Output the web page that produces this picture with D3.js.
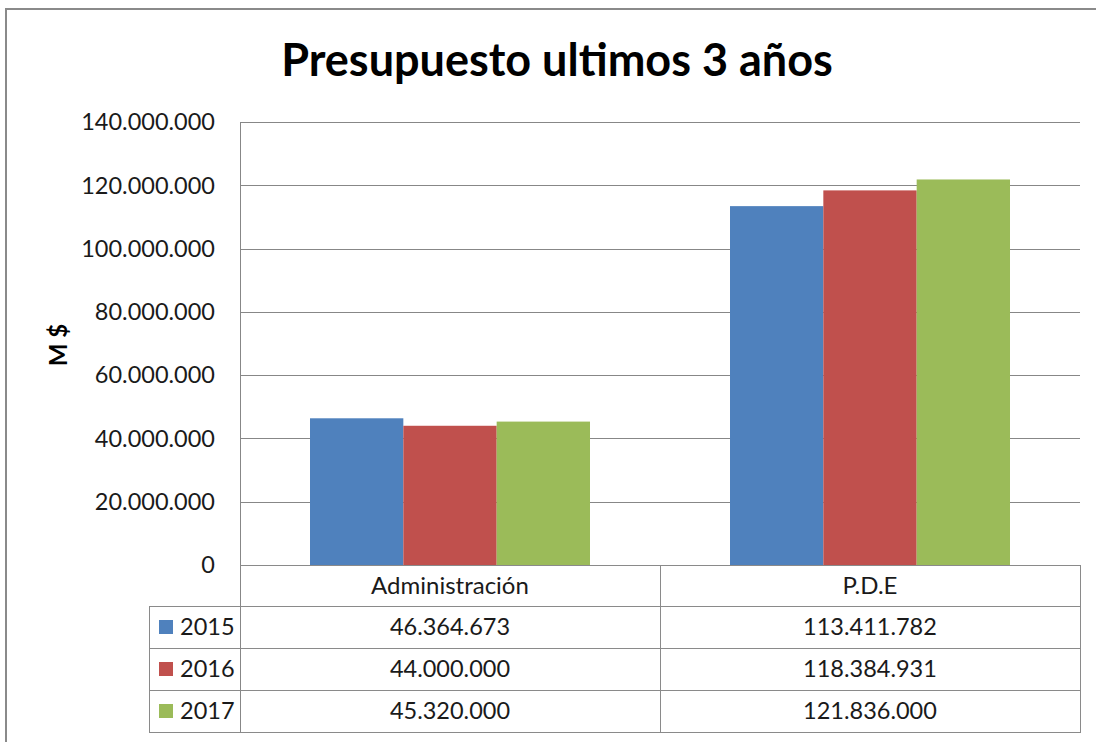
<!DOCTYPE html>
<html>
<head>
<meta charset="utf-8">
<script src="https://cdn.jsdelivr.net/npm/d3@7"></script>
<style>
  html, body { margin: 0; padding: 0; background: #fff; overflow: hidden; }
  svg { display: block; }
  text { font-family: Lato, "Open Sans", sans-serif; }
</style>
</head>
<body>
<script>
const title = "Presupuesto ultimos 3 años";
const yAxisLabel = "M $";
const categories = ["Administración", "P.D.E"];
const years = ["2015", "2016", "2017"];
const values2015 = [46364673, 113411782];
const values2016 = [44000000, 118384931];
const values2017 = [45320000, 121836000];
const yTicks = [0, 20000000, 40000000, 60000000, 80000000, 100000000, 120000000, 140000000];
const colors = ["#4F81BD", "#C0504D", "#9BBB59"];

const series = [values2015, values2016, values2017];

const W = 1096, H = 742;
const svg = d3.select("body").append("svg").attr("width", W).attr("height", H);

const loc = d3.formatLocale({ decimal: ",", thousands: ".", grouping: [3], currency: ["$", ""] });
const fmt = loc.format(",d");

// frame
svg.append("rect").attr("x", 6).attr("y", 9).attr("width", W + 20).attr("height", H + 20)
  .attr("fill", "#fff").attr("stroke", "#8a8a8a").attr("stroke-width", 2);

const plotL = 240, plotR = 1080, plotT = 122, plotB = 565;
const x0 = d3.scaleBand().domain(categories).range([plotL, plotR]).paddingInner(0).paddingOuter(0);
const x1 = d3.scaleBand().domain(years).range([0, x0.bandwidth()]).paddingInner(0).paddingOuter(0.75);
const y = d3.scaleLinear().domain([0, 140000000]).range([plotB, plotT]);

// gridlines
svg.append("g").selectAll("line").data(yTicks.filter(d => d > 0)).join("line")
  .attr("x1", plotL).attr("x2", plotR)
  .attr("y1", d => Math.round(y(d)) + 0.5).attr("y2", d => Math.round(y(d)) + 0.5)
  .attr("stroke", "#878787").attr("stroke-width", 1);

// tick labels
svg.append("g").selectAll("text").data(yTicks).join("text")
  .attr("x", 215).attr("y", d => y(d)).attr("dy", "0.35em")
  .attr("text-anchor", "end").attr("font-size", 23.5).attr("fill", "#1a1a1a")
  .text(d => fmt(d));

// bars
const groups = svg.append("g").selectAll("g").data(categories).join("g")
  .attr("transform", c => `translate(${x0(c)},0)`);
groups.selectAll("rect").data((c, ci) => years.map((yr, si) => ({ yr, si, v: series[si][ci] }))).join("rect")
  .attr("x", d => x1(d.yr)).attr("width", x1.bandwidth())
  .attr("y", d => y(d.v)).attr("height", d => y(0) - y(d.v))
  .attr("fill", d => colors[d.si]);

// axis line
svg.append("line").attr("x1", plotL + 0.5).attr("x2", plotL + 0.5).attr("y1", plotT).attr("y2", 732)
  .attr("stroke", "#878787");

// table
const tableL = 149, headT = plotB, headB = 606, tableB = 732;
const rowY = d3.scaleBand().domain(years).range([headB, tableB]);
const lineColor = "#8a8a8a";
const tg = svg.append("g");
tg.append("line").attr("x1", plotL).attr("x2", plotR).attr("y1", headT + 0.5).attr("y2", headT + 0.5).attr("stroke", lineColor);
tg.selectAll("line.h").data([headB, ...years.map(yr => rowY(yr) + rowY.bandwidth())]).join("line")
  .attr("class", "h")
  .attr("x1", tableL).attr("x2", plotR)
  .attr("y1", d => Math.round(d) + 0.5).attr("y2", d => Math.round(d) + 0.5)
  .attr("stroke", lineColor);
tg.append("line").attr("x1", tableL + 0.5).attr("x2", tableL + 0.5).attr("y1", headB).attr("y2", tableB + 1).attr("stroke", lineColor);
tg.selectAll("line.v").data([x0(categories[1]), plotR]).join("line")
  .attr("class", "v")
  .attr("x1", d => d + 0.5).attr("x2", d => d + 0.5).attr("y1", headT).attr("y2", tableB + 1)
  .attr("stroke", lineColor);

// header labels
tg.selectAll("text.cat").data(categories).join("text")
  .attr("class", "cat")
  .attr("x", c => x0(c) + x0.bandwidth() / 2).attr("y", (headT + headB) / 2).attr("dy", "0.35em")
  .attr("text-anchor", "middle").attr("font-size", 24).attr("fill", "#1a1a1a")
  .text(c => c);

// rows
const rows = tg.selectAll("g.row").data(years).join("g").attr("class", "row")
  .attr("transform", yr => `translate(0,${rowY(yr) + rowY.bandwidth() / 2})`);
rows.append("rect").attr("x", 159).attr("y", -7).attr("width", 14).attr("height", 14)
  .attr("fill", (yr, i) => colors[i]);
rows.append("text").attr("x", 180).attr("dy", "0.35em").attr("font-size", 23.5).attr("fill", "#1a1a1a")
  .text(yr => yr);
rows.each(function (yr, si) {
  d3.select(this).selectAll("text.val").data(categories).join("text")
    .attr("class", "val")
    .attr("x", c => x0(c) + x0.bandwidth() / 2).attr("dy", "0.35em")
    .attr("text-anchor", "middle").attr("font-size", 23.5).attr("fill", "#1a1a1a")
    .text((c, ci) => fmt(series[si][ci]));
});

// title
svg.append("text").attr("x", 557).attr("y", 76).attr("text-anchor", "middle")
  .attr("font-size", 45).attr("font-weight", "bold").attr("fill", "#000")
  .text(title);

// y axis label
svg.append("text").attr("transform", "translate(67,345) rotate(-90)")
  .attr("text-anchor", "middle").attr("font-size", 24).attr("font-weight", "bold").attr("fill", "#000")
  .text(yAxisLabel);
</script>
</body>
</html>
